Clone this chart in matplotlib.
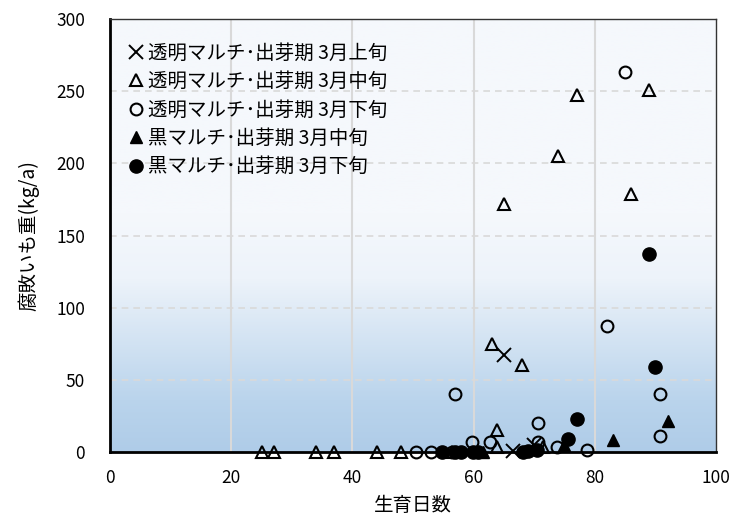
import numpy as np
import matplotlib
matplotlib.use("Agg")
import matplotlib.pyplot as plt
from matplotlib.colors import LinearSegmentedColormap

plt.rcParams['font.family'] = ['Noto Sans CJK JP', 'DejaVu Sans']

# 透明マルチ・出芽期3月上旬
early_x = [65, 66.5, 70]
early_y = [67, 0.5, 5]

# 透明マルチ・出芽期3月中旬
mid_x = [25, 27, 34, 37, 44, 48, 56.5, 63, 63.8, 63.8, 65, 68, 71.5, 74, 77, 86, 89]
mid_y = [0, 0, 0, 0, 0, 0, 0, 75, 15, 3.5, 172, 60, 3.5, 205, 247, 179, 251]

# 透明マルチ・出芽期3月下旬
late_x = [50.5, 53, 56.5, 57, 59.8, 62.7, 70.6, 70.6, 73.7, 78.7, 82, 85, 90.8, 90.8]
late_y = [0, 0, 0, 40, 7, 7, 20, 7, 3.5, 1.5, 87, 263, 40, 11]

# 黒マルチ・出芽期3月中旬
black_mid_x = [61.6, 75, 83, 92]
black_mid_y = [0, 5, 8.5, 21.5]

# 黒マルチ・出芽期3月下旬
black_late_x = [54.8, 56.9, 58, 59.9, 60.7, 68.2, 69, 70.5, 75.5, 77, 89, 90]
black_late_y = [0, 0, 0, 0, 0, 0, 1, 1.5, 9, 23, 137, 59]

fig = plt.figure(figsize=(7.36, 5.22), dpi=100)
ax = fig.add_axes([0.1495, 0.1341, 0.8233, 0.8295])
ax.set_xlim(0, 100)
ax.set_ylim(0, 300)

# plot area fill: pale at the top, blue toward the bottom
cmap = LinearSegmentedColormap.from_list(
    'bg', [(0, '#afcce8'), (0.12, '#bad4ec'), (0.4, '#edf3fa'), (0.55, '#f5f8fc'), (1, '#f5f8fc')])
grad = np.linspace(0, 1, 256).reshape(-1, 1)
ax.imshow(grad, extent=[0, 100, 0, 300], origin='lower', aspect='auto',
          cmap=cmap, zorder=0)

for xv in [20, 40, 60, 80]:
    ax.axvline(xv, color='#d9d9d9', lw=1.5, zorder=1)
for yv in [50, 100, 150, 200, 250]:
    ax.axhline(yv, color='#d9d9d9', lw=1.2, ls=(0, (4, 3)), zorder=1)

ms = 8.5
kw = dict(ls='none', clip_on=False, zorder=3)
ax.plot(early_x, early_y, marker='x', ms=ms + 1, mew=1.4, color='black',
        label='透明マルチ･出芽期 3月上旬', **kw)
ax.plot(mid_x, mid_y, marker='^', ms=ms, mew=1.5, mfc='none', mec='black',
        label='透明マルチ･出芽期 3月中旬', **kw)
ax.plot(late_x, late_y, marker='o', ms=ms, mew=1.5, mfc='none', mec='black',
        label='透明マルチ･出芽期 3月下旬', **kw)
ax.plot(black_mid_x, black_mid_y, marker='^', ms=ms, mfc='black', mec='black',
        label='黒マルチ･出芽期 3月中旬', **kw)
ax.plot(black_late_x, black_late_y, marker='o', ms=ms + 1, mfc='black', mec='black',
        label='黒マルチ･出芽期 3月下旬', **kw)

for side in ['left', 'bottom']:
    ax.spines[side].set_linewidth(2)
    ax.spines[side].set_color('black')
for side in ['top', 'right']:
    ax.spines[side].set_linewidth(1)
    ax.spines[side].set_color('#333333')
for s in ax.spines.values():
    s.set_zorder(4)

ax.set_xticks([0, 20, 40, 60, 80, 100])
ax.set_yticks([0, 50, 100, 150, 200, 250, 300])
ax.tick_params(length=0, labelsize=12.5)
ax.tick_params(axis='y', pad=18)
ax.tick_params(axis='x', pad=12)

ax.set_xlabel('生育日数', fontsize=14, labelpad=6)
ax.set_ylabel('腐敗いも重(kg/a)', fontsize=14, labelpad=12)

leg = ax.legend(loc='upper left', bbox_to_anchor=(0.0, 0.99), frameon=False,
                fontsize=14, handlelength=0.7, handletextpad=0.25,
                labelspacing=0.38, borderaxespad=0.6)

fig.savefig('out.png', dpi=100)
